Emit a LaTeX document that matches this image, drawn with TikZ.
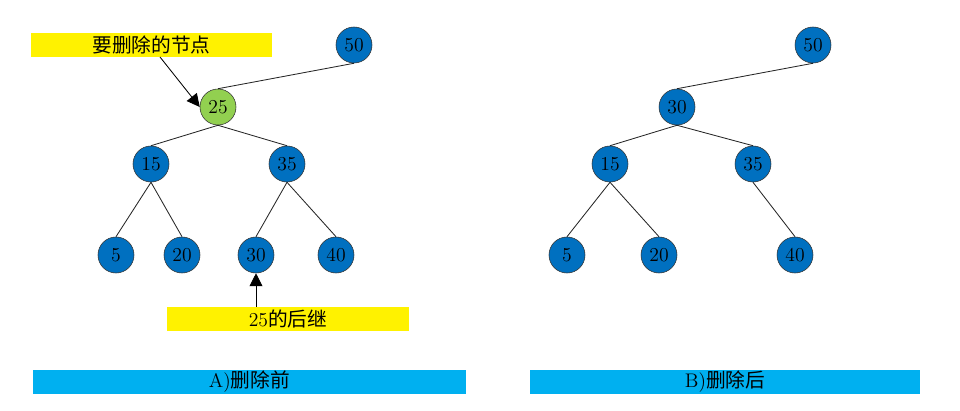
\documentclass[tikz,border=0pt]{standalone}
\usepackage{fontspec}
\newfontfamily\cjk{Noto Sans CJK SC}
\usetikzlibrary{arrows.meta}

\definecolor{nodeblue}{HTML}{0070C0}
\definecolor{nodegreen}{HTML}{92D050}
\definecolor{barblue}{HTML}{00B0F0}

\begin{document}
\begin{tikzpicture}[x=0.025cm,y=-0.025cm,
	tnode/.style={circle,draw=black!80,fill=nodeblue,minimum size=36*0.025cm,inner sep=0pt,font=\fontsize{14}{16}\selectfont},
	delnode/.style={tnode,fill=nodegreen},
	notebox/.style={fill=yellow,minimum height=24*0.025cm,inner sep=0pt,font=\fontsize{14}{16}\selectfont},
	captbar/.style={fill=barblue,minimum height=24*0.025cm,inner sep=0pt,font=\fontsize{14}{16}\selectfont},
	edge/.style={draw=black!85,line width=0.6pt},
	pointer/.style={draw=black,line width=0.6pt,-{Triangle[length=3.2mm,width=3.2mm]}}]
	\useasboundingbox (0,0) rectangle (960,411);
	% before deletion
	\node[tnode] (a50) at (354,45) {50};
	\node[delnode] (a25) at (218,107) {25};
	\node[tnode] (a15) at (151,164) {15};
	\node[tnode] (a35) at (287,164) {35};
	\node[tnode] (a5) at (116,255) {5};
	\node[tnode] (a20) at (182,255) {20};
	\node[tnode] (a30) at (256,255) {30};
	\node[tnode] (a40) at (336,255) {40};
	\draw[edge] (a50.south) -- (a25.north);
	\draw[edge] (a25.south) -- (a15.north);
	\draw[edge] (a25.south) -- (a35.north);
	\draw[edge] (a15.south) -- (a5.north);
	\draw[edge] (a15.south) -- (a20.north);
	\draw[edge] (a35.south) -- (a30.north);
	\draw[edge] (a35.south) -- (a40.north);
	\node[notebox,minimum width=241*0.025cm] (delnote) at (151.5,45) {\cjk 要删除的节点};
	\node[notebox,minimum width=242*0.025cm] (succnote) at (288,319.5) {25{\cjk 的后继}};
	\coordinate (delfrom) at (160,57);
	\coordinate (succfrom) at (256,307);
	\draw[pointer] (delfrom) -- (a25.west);
	\draw[pointer] (succfrom) -- (a30.south);
	\node[captbar,minimum width=433*0.025cm] (captA) at (249.5,382) {A){\cjk 删除前}};
	% after deletion
	\node[tnode] (b50) at (813,45) {50};
	\node[tnode] (b30) at (677,107) {30};
	\node[tnode] (b15) at (610,164) {15};
	\node[tnode] (b35) at (753,164) {35};
	\node[tnode] (b5) at (567,255) {5};
	\node[tnode] (b20) at (659,255) {20};
	\node[tnode] (b40) at (795,255) {40};
	\draw[edge] (b50.south) -- (b30.north);
	\draw[edge] (b30.south) -- (b15.north);
	\draw[edge] (b30.south) -- (b35.north);
	\draw[edge] (b15.south) -- (b5.north);
	\draw[edge] (b15.south) -- (b20.north);
	\draw[edge] (b35.south) -- (b40.north);
	\node[captbar,minimum width=390*0.025cm] (captB) at (725,382) {B){\cjk 删除后}};
\end{tikzpicture}
\end{document}
